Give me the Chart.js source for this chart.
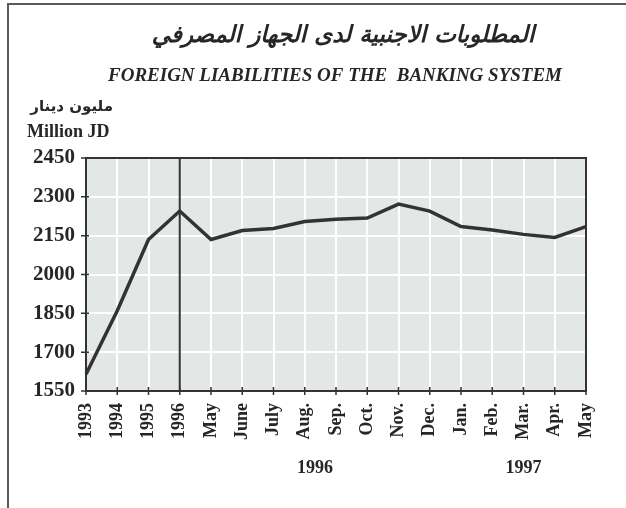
<!DOCTYPE html>
<html>
<head>
<meta charset="utf-8">
<script src="https://cdn.jsdelivr.net/npm/chart.js@4"></script>
<style>
  html, body { margin: 0; padding: 0; background: #fff; }
  #wrap { position: relative; width: 626px; height: 508px; }
</style>
</head>
<body>
<div id="wrap"><canvas id="chart" width="626" height="508"></canvas></div>
<script>
// data
const categories = ['1993', '1994', '1995', '1996', 'May', 'June', 'July', 'Aug.', 'Sep.', 'Oct.', 'Nov.', 'Dec.', 'Jan.', 'Feb.', 'Mar.', 'Apr.', 'May']
const liabilities = [1615, 1860, 2135, 2245, 2135, 2170, 2178, 2205, 2213, 2218, 2272, 2245, 2185, 2172, 2155, 2143, 2185]
const yMin = 1550
const yMax = 2450
const yStep = 150

// year captions under the month labels, anchored to a category position
const yearLabels = ['1996', '1997']
const yearAnchors = [7.33, 14]
const dividerIndex = 3 // the annual / monthly split at "1996"

const titleAr = 'المطلوبات الاجنبية لدى الجهاز المصرفي'
const titleEn = 'FOREIGN LIABILITIES OF THE  BANKING SYSTEM'
const unitAr = 'مليون دينار'
const unitEn = 'Million JD'

const serif = '"Liberation Serif", "Times New Roman", serif'
const ink = '#262626'

const decor = {
  id: 'decor',
  beforeDraw (chart) {
    const { ctx, chartArea: a } = chart
    ctx.save()
    ctx.fillStyle = '#fff'
    ctx.fillRect(0, 0, chart.width, chart.height)
    ctx.fillStyle = '#e3e7e6'
    ctx.fillRect(a.left, a.top, a.right - a.left, a.bottom - a.top)
    // page frame (top and left only are visible in the scan)
    ctx.strokeStyle = '#5a5a5a'
    ctx.lineWidth = 2
    ctx.beginPath()
    ctx.moveTo(626, 4)
    ctx.lineTo(8, 4)
    ctx.lineTo(8, 508)
    ctx.stroke()
    ctx.restore()
  },
  afterDatasetsDraw (chart) {
    const { ctx, chartArea: a, scales } = chart
    const xs = scales.x
    const ys = scales.y
    ctx.save()
    ctx.strokeStyle = '#333'
    ctx.lineWidth = 2
    ctx.strokeRect(a.left, a.top, a.right - a.left, a.bottom - a.top)

    const xd = xs.getPixelForValue(dividerIndex)
    ctx.beginPath()
    ctx.moveTo(xd, a.top)
    ctx.lineTo(xd, a.bottom)
    ctx.stroke()

    // tick marks crossing the axes
    ctx.lineWidth = 1.5
    ctx.beginPath()
    xs.ticks.forEach((t, i) => {
      const x = xs.getPixelForTick(i)
      ctx.moveTo(x, a.bottom - 4)
      ctx.lineTo(x, a.bottom + 4)
    })
    ys.ticks.forEach((t, i) => {
      const y = ys.getPixelForTick(i)
      ctx.moveTo(a.left - 5, y)
      ctx.lineTo(a.left + 3, y)
    })
    ctx.stroke()
    ctx.restore()
  },
  afterDraw (chart) {
    const { ctx, scales } = chart
    ctx.save()
    ctx.fillStyle = ink
    ctx.textBaseline = 'middle'

    ctx.textAlign = 'center'
    ctx.font = 'italic bold 23px "DejaVu Sans", sans-serif'
    ctx.fillText(titleAr, 343, 36)

    ctx.font = 'italic bold 19px ' + serif
    ctx.fillText(titleEn, 335, 76)

    ctx.textAlign = 'right'
    ctx.font = 'bold 15px "DejaVu Sans", sans-serif'
    ctx.fillText(unitAr, 113, 107)

    ctx.textAlign = 'left'
    ctx.font = 'bold 18px ' + serif
    ctx.fillText(unitEn, 27, 132)

    ctx.textAlign = 'center'
    ctx.font = 'bold 18px ' + serif
    yearLabels.forEach((lab, i) => {
      ctx.fillText(lab, scales.x.getPixelForValue(yearAnchors[i]), 468)
    })
    ctx.restore()
  }
}

new Chart(document.getElementById('chart'), {
  type: 'line',
  data: {
    labels: categories,
    datasets: [{
      data: liabilities,
      borderColor: '#333',
      borderWidth: 3.5,
      pointRadius: 0,
      tension: 0,
      fill: false
    }]
  },
  options: {
    responsive: false,
    animation: false,
    layout: { padding: { left: 0, top: 158, right: 40, bottom: 0 } },
    plugins: {
      legend: { display: false },
      tooltip: { enabled: false }
    },
    scales: {
      x: {
        offset: false,
        grid: { color: '#ffffff', lineWidth: 2, drawTicks: false },
        border: { display: true, color: '#333', width: 2 },
        ticks: {
          color: ink,
          autoSkip: false,
          minRotation: 90,
          maxRotation: 90,
          padding: 12,
          font: { family: serif, weight: 'bold', size: 18 }
        },
        afterFit (s) { s.height = 117 }
      },
      y: {
        min: yMin,
        max: yMax,
        grid: { color: '#ffffff', lineWidth: 2, drawTicks: false },
        border: { display: true, color: '#333', width: 2 },
        ticks: {
          stepSize: yStep,
          color: ink,
          padding: 11,
          font: { family: serif, weight: 'bold', size: 21 },
          callback: v => String(v)
        },
        afterFit (s) { s.width = 86 }
      }
    }
  },
  plugins: [decor]
})
</script>
</body>
</html>
